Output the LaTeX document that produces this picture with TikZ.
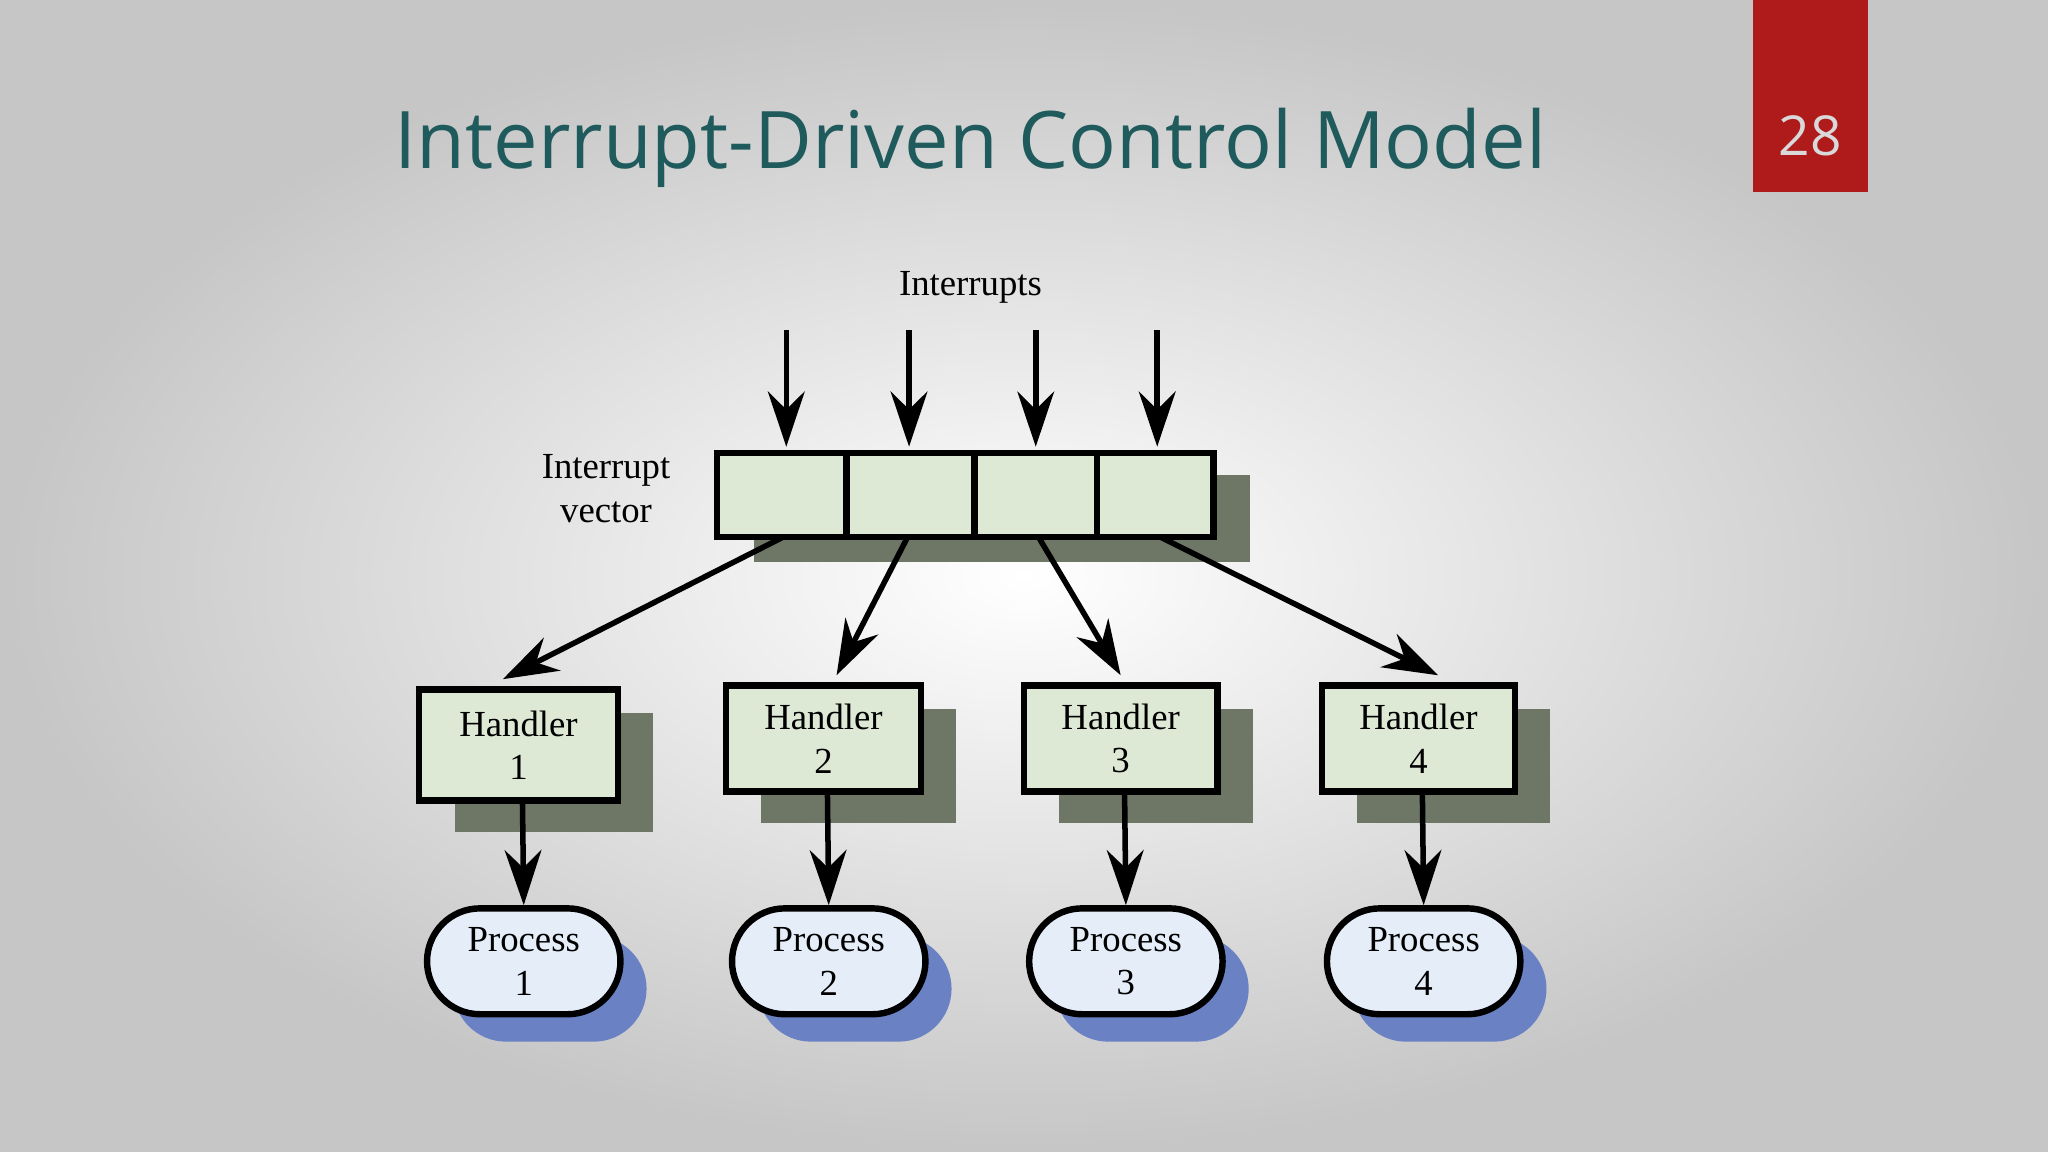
\documentclass[tikz,border=0pt]{standalone}
\usepackage{fontspec}
\setmainfont{Liberation Serif}
\newfontfamily\titlef{Open Sans}
\usetikzlibrary{arrows.meta,shapes.misc}
\definecolor{teal1}{HTML}{1F5A5C}
\definecolor{redb}{HTML}{AF1A1A}
\definecolor{hfill}{HTML}{DDE8D5}
\definecolor{hshadow}{HTML}{6E7766}
\definecolor{pfill}{HTML}{E4EDF8}
\definecolor{pshadow}{HTML}{6A82C4}
\begin{document}
\begin{tikzpicture}[x=0.01cm,y=-0.01cm,
  arr/.style={-{Stealth[length=12pt,width=8pt]},line width=1.2pt},
  lbl/.style={font=\fontsize{8}{9.5}\selectfont,align=center},
  pill/.style={rounded rectangle,minimum width=1.48cm,minimum height=0.81cm,inner sep=0pt}]
\shade[inner color=white,outer color=gray!45] (0,0) rectangle (1568,882);
\useasboundingbox (0,0) rectangle (1568,882);
\node[text=teal1,font=\titlef\fontsize{17.3}{20}\selectfont] (title) at (743,113) {Interrupt-Driven Control Model};
\fill[redb] (1342,0) rectangle (1430,147);
\node[text=gray!30,font=\titlef\fontsize{12}{14}\selectfont] (num) at (1386,104) {28};
\node[lbl] (ints) at (743,220) {Interrupts};
\node[lbl] (iv) at (464,374) {Interrupt\\vector};
% vector
\fill[hshadow] (577,364) rectangle (957,430);
\draw[line width=1.4pt,fill=hfill] (549,347) rectangle (929,411);
\foreach \x in {648,746,840}{\draw[line width=1.4pt] (\x,347) -- (\x,411);}
\foreach \i/\x in {1/602,2/696,3/793,4/886}{
  \coordinate (t\i) at (\x,253); \coordinate (v\i) at (\x,342);
  \draw[arr] (t\i) -- (v\i);}
% handlers and processes
\foreach \i/\xa/\xb/\ya/\yb/\vx/\dx in {1/321/473/528/613/600/-12,2/556/705/525/606/695/10,3/784/932/525/606/795/0,4/1012/1160/525/606/888/15}{
  \fill[hshadow] (\xa+27,\ya+18) rectangle (\xb+27,\yb+24);
  \draw[line width=1.4pt,fill=hfill] (\xa,\ya) rectangle (\xb,\yb);
  \node[lbl] (h\i) at ({(\xa+\xb)/2},{(\ya+\yb)/2}) {Handler\\\i};
  \coordinate (vb\i) at (\vx,411);
  \coordinate (ht\i) at ({(\xa+\xb)/2+\dx},\ya-8);
  \draw[arr] (vb\i) -- (ht\i);
  \pgfmathsetmacro{\cx}{(\xa+\xb)/2+3}
  \node[pill,fill=pshadow] (s\i) at (\cx+21,757) {};
  \node[draw,line width=1.4pt,fill=pfill,pill,lbl] (p\i) at (\cx+1,736) {Process\\\i};
  \coordinate (hb\i) at (\cx,\yb);
  \draw[arr] (hb\i) -- (p\i.north);
}
\end{tikzpicture}
\end{document}
